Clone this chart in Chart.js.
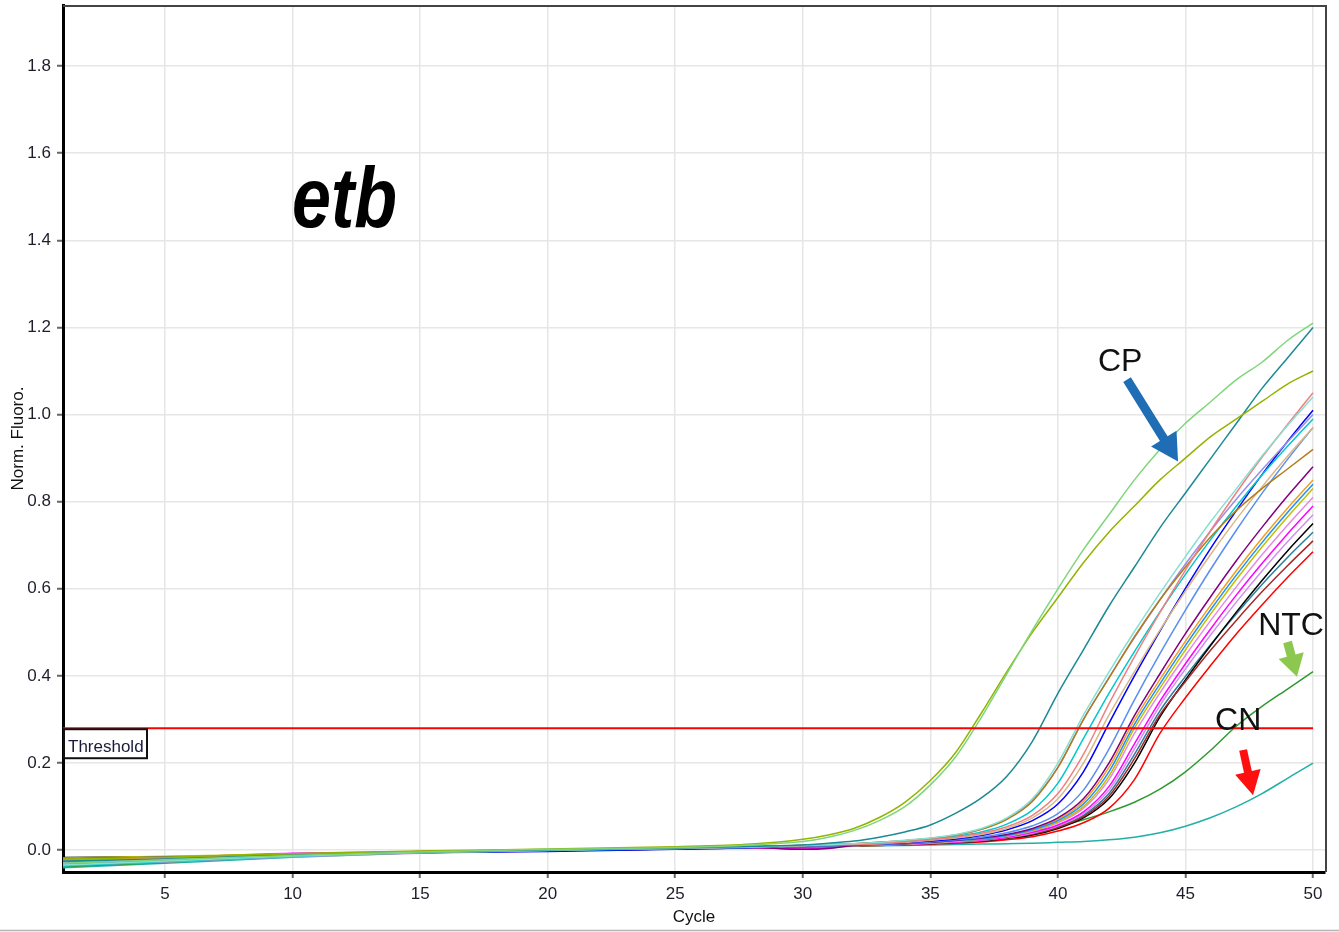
<!DOCTYPE html>
<html>
<head>
  <title>etb - Norm. Fluoro.</title>
  <script src="https://cdn.jsdelivr.net/npm/chart.js"></script>
  <style>
    body {
      margin: 0;
      background: #fff;
    }
    canvas {
      display: block;
    }
  </style>
</head>
<body>
  <canvas id="ampChart" width="1339" height="932"></canvas>

  <script>
    // cycles at which each curve is sampled
    const cycles = [1, 5, 10, 15, 20, 25, 28, 30, 31, 32, 33, 34, 35, 36, 37, 38, 39, 40,
                    41, 42, 43, 44, 45, 46, 47, 48, 49, 50];
    const xTicks = [5, 10, 15, 20, 25, 30, 35, 40, 45, 50];
    const yTicks = [0, 0.2, 0.4, 0.6, 0.8, 1.0, 1.2, 1.4, 1.6, 1.8];
    const threshold = 0.28;

    // normalised fluorescence per well
    const lightGreen = [-0.03, -0.022, -0.012, -0.004, 0.002, 0.006, 0.012, 0.02, 0.03, 0.045, 0.068, 0.1, 0.15, 0.215, 0.305, 0.405, 0.505, 0.6, 0.69, 0.77, 0.85, 0.92, 0.98, 1.03, 1.08, 1.12, 1.17, 1.21];
    const olive = [-0.02, -0.016, -0.008, -0.002, 0.003, 0.008, 0.014, 0.025, 0.035, 0.05, 0.075, 0.11, 0.16, 0.225, 0.315, 0.41, 0.5, 0.58, 0.66, 0.73, 0.79, 0.85, 0.9, 0.95, 0.99, 1.03, 1.07, 1.10];
    const teal = [-0.025, -0.02, -0.01, -0.004, 0.001, 0.005, 0.009, 0.012, 0.016, 0.021, 0.03, 0.042, 0.058, 0.085, 0.12, 0.17, 0.25, 0.36, 0.46, 0.56, 0.65, 0.74, 0.82, 0.9, 0.98, 1.06, 1.13, 1.2];
    const aqua = [-0.034, -0.025, -0.013, -0.005, 0.0, 0.005, 0.008, 0.011, 0.013, 0.015, 0.018, 0.023, 0.028, 0.036, 0.05, 0.074, 0.118, 0.2, 0.31, 0.409, 0.502, 0.59, 0.674, 0.755, 0.83, 0.905, 0.975, 1.04];
    const salmon = [-0.022, -0.018, -0.009, -0.003, 0.001, 0.004, 0.008, 0.011, 0.012, 0.013, 0.015, 0.019, 0.024, 0.03, 0.039, 0.054, 0.08, 0.13, 0.22, 0.336, 0.444, 0.546, 0.643, 0.735, 0.821, 0.902, 0.977, 1.05];
    const brown = [-0.019, -0.017, -0.012, -0.006, 0.0, 0.006, 0.009, 0.011, 0.013, 0.015, 0.018, 0.022, 0.027, 0.035, 0.048, 0.071, 0.112, 0.19, 0.3, 0.395, 0.49, 0.575, 0.65, 0.72, 0.78, 0.83, 0.875, 0.92];
    const lavender = [-0.028, -0.02, -0.01, -0.004, 0.001, 0.005, 0.008, 0.011, 0.013, 0.015, 0.018, 0.022, 0.027, 0.035, 0.048, 0.072, 0.115, 0.19, 0.3, 0.396, 0.488, 0.575, 0.657, 0.734, 0.806, 0.873, 0.937, 1.0];
    const cyan = [-0.036, -0.026, -0.014, -0.006, -0.001, 0.004, 0.007, 0.011, 0.012, 0.014, 0.017, 0.02, 0.025, 0.032, 0.042, 0.06, 0.092, 0.154, 0.256, 0.36, 0.456, 0.547, 0.633, 0.714, 0.79, 0.861, 0.927, 0.99];
    const tan = [-0.024, -0.019, -0.011, -0.005, 0.0, 0.004, 0.007, 0.011, 0.012, 0.013, 0.015, 0.018, 0.023, 0.028, 0.036, 0.05, 0.074, 0.118, 0.2, 0.31, 0.41, 0.505, 0.595, 0.68, 0.76, 0.834, 0.904, 0.97];
    const blue = [-0.02, -0.016, -0.012, -0.005, -0.003, 0.002, 0.006, 0.011, 0.011, 0.012, 0.014, 0.017, 0.021, 0.026, 0.034, 0.047, 0.068, 0.106, 0.18, 0.291, 0.40, 0.503, 0.601, 0.694, 0.78, 0.862, 0.938, 1.01];
    const cornflower = [-0.032, -0.024, -0.013, -0.004, 0.0, 0.005, 0.007, 0.01, 0.011, 0.012, 0.013, 0.016, 0.019, 0.024, 0.03, 0.04, 0.056, 0.084, 0.138, 0.232, 0.345, 0.451, 0.551, 0.646, 0.735, 0.819, 0.897, 0.97];
    const purple = [-0.026, -0.02, -0.01, -0.003, 0.0, 0.003, 0.006, 0.002, 0.004, 0.011, 0.013, 0.015, 0.018, 0.023, 0.028, 0.036, 0.05, 0.074, 0.118, 0.2, 0.309, 0.405, 0.497, 0.583, 0.665, 0.741, 0.813, 0.88];
    const dodger = [-0.03, -0.023, -0.011, -0.005, -0.001, 0.004, 0.006, 0.01, 0.01, 0.011, 0.013, 0.015, 0.018, 0.022, 0.026, 0.034, 0.047, 0.068, 0.106, 0.18, 0.289, 0.382, 0.47, 0.553, 0.632, 0.706, 0.775, 0.84];
    const yellowOlive = [-0.018, -0.014, -0.008, -0.004, 0.001, 0.005, 0.008, 0.01, 0.01, 0.011, 0.012, 0.014, 0.017, 0.021, 0.026, 0.033, 0.045, 0.065, 0.1, 0.17, 0.28, 0.372, 0.46, 0.543, 0.622, 0.696, 0.765, 0.83];
    const orange = [-0.021, -0.016, -0.009, -0.004, 0.0, 0.004, 0.007, 0.01, 0.01, 0.011, 0.013, 0.015, 0.018, 0.022, 0.027, 0.035, 0.048, 0.071, 0.112, 0.19, 0.299, 0.392, 0.48, 0.563, 0.642, 0.716, 0.785, 0.85];
    const orchid = [-0.027, -0.021, -0.012, -0.006, -0.001, 0.003, 0.006, 0.01, 0.01, 0.011, 0.012, 0.014, 0.017, 0.02, 0.025, 0.032, 0.044, 0.063, 0.096, 0.162, 0.268, 0.361, 0.447, 0.528, 0.605, 0.678, 0.746, 0.81];
    const magenta = [-0.023, -0.017, -0.007, -0.004, 0.0, 0.004, 0.006, 0.003, 0.006, 0.011, 0.012, 0.014, 0.016, 0.019, 0.024, 0.03, 0.041, 0.058, 0.088, 0.146, 0.244, 0.342, 0.428, 0.509, 0.586, 0.658, 0.726, 0.79];
    const violet = [-0.035, -0.027, -0.015, -0.007, -0.002, 0.003, 0.005, 0.009, 0.01, 0.011, 0.012, 0.013, 0.016, 0.019, 0.023, 0.029, 0.039, 0.056, 0.084, 0.138, 0.232, 0.332, 0.416, 0.495, 0.57, 0.641, 0.708, 0.77];
    const darkRed = [-0.02, -0.017, -0.01, -0.004, 0.0, 0.004, 0.008, 0.009, 0.01, 0.011, 0.012, 0.013, 0.015, 0.018, 0.022, 0.028, 0.037, 0.052, 0.077, 0.124, 0.21, 0.311, 0.387, 0.46, 0.528, 0.593, 0.653, 0.71];
    const black = [-0.017, -0.015, -0.011, -0.005, -0.001, 0.003, 0.006, 0.009, 0.01, 0.011, 0.012, 0.013, 0.015, 0.018, 0.021, 0.027, 0.035, 0.05, 0.074, 0.118, 0.2, 0.306, 0.391, 0.471, 0.547, 0.619, 0.687, 0.75];
    const steel = [-0.029, -0.021, -0.012, -0.004, 0.0, 0.004, 0.006, 0.009, 0.01, 0.011, 0.012, 0.013, 0.016, 0.018, 0.022, 0.029, 0.038, 0.054, 0.08, 0.13, 0.22, 0.32, 0.399, 0.473, 0.543, 0.61, 0.672, 0.73];
    const red = [-0.025, -0.019, -0.012, -0.005, 0.0, 0.003, 0.005, 0.008, 0.009, 0.01, 0.011, 0.012, 0.014, 0.016, 0.019, 0.024, 0.031, 0.044, 0.063, 0.096, 0.162, 0.268, 0.35, 0.425, 0.497, 0.563, 0.626, 0.685];
    const ntc = [-0.038, -0.028, -0.013, -0.005, 0.0, 0.004, 0.006, 0.008, 0.009, 0.01, 0.011, 0.013, 0.016, 0.02, 0.026, 0.033, 0.043, 0.055, 0.07, 0.088, 0.11, 0.14, 0.18, 0.23, 0.285, 0.33, 0.37, 0.41];
    const cn = [-0.04, -0.03, -0.016, -0.006, -0.001, 0.003, 0.005, 0.007, 0.008, 0.009, 0.01, 0.011, 0.012, 0.013, 0.014, 0.015, 0.016, 0.018, 0.02, 0.024, 0.03, 0.04, 0.055, 0.075, 0.1, 0.13, 0.165, 0.2];

    const wells = [
      [lightGreen, '#7fd67a'], [olive, '#93b300'], [teal, '#1b8a94'],
      [aqua, '#86e0d2'], [salmon, '#f08080'], [brown, '#b07d1a'],
      [lavender, '#9a8ee8'], [cyan, '#00c8cc'], [tan, '#d8b888'],
      [blue, '#0000ff'], [cornflower, '#5a8ef0'], [purple, '#800080'],
      [dodger, '#1e90ff'], [yellowOlive, '#c0c000'], [orange, '#f0a020'],
      [orchid, '#e58ae5'], [magenta, '#ff00ff'], [violet, '#d090f0'],
      [darkRed, '#a52a2a'], [black, '#000000'], [steel, '#2a7f9f'],
      [red, '#ff0000'], [ntc, '#2f9a2f'], [cn, '#20b0a8']
    ];

    const datasets = wells.map(([vals, color]) => ({
      data: vals.map((v, i) => ({ x: cycles[i], y: v })),
      borderColor: color,
      borderWidth: 1.5,
      pointRadius: 0,
      cubicInterpolationMode: 'monotone'
    }));

    // threshold line, drawn on top of the curves
    datasets.push({
      data: [{ x: cycles[0], y: threshold }, { x: cycles[cycles.length - 1], y: threshold }],
      borderColor: '#ff0000',
      borderWidth: 2,
      pointRadius: 0,
      order: -1
    });

    function arrow(ctx, x1, y1, x2, y2, shaft, headLen, headW, color) {
      const len = Math.hypot(x2 - x1, y2 - y1);
      ctx.save();
      ctx.translate(x1, y1);
      ctx.rotate(Math.atan2(y2 - y1, x2 - x1));
      ctx.fillStyle = color;
      ctx.beginPath();
      ctx.moveTo(0, -shaft / 2);
      ctx.lineTo(len - headLen, -shaft / 2);
      ctx.lineTo(len - headLen, -headW / 2);
      ctx.lineTo(len, 0);
      ctx.lineTo(len - headLen, headW / 2);
      ctx.lineTo(len - headLen, shaft / 2);
      ctx.lineTo(0, shaft / 2);
      ctx.closePath();
      ctx.fill();
      ctx.restore();
    }

    const notes = {
      id: 'notes',
      afterDraw(chart) {
        const { ctx, chartArea: a, scales: { x, y } } = chart;
        ctx.save();

        // top and right frame
        ctx.strokeStyle = '#444';
        ctx.lineWidth = 2;
        ctx.beginPath();
        ctx.moveTo(a.left, a.top + 1);
        ctx.lineTo(a.right + 1, a.top + 1);
        ctx.lineTo(a.right + 1, a.bottom);
        ctx.stroke();

        // bottom rule of the panel
        ctx.strokeStyle = '#b4b4b4';
        ctx.lineWidth = 1.5;
        ctx.beginPath();
        ctx.moveTo(0, chart.height - 1.5);
        ctx.lineTo(chart.width, chart.height - 1.5);
        ctx.stroke();

        // threshold tag
        const ty = y.getPixelForValue(threshold);
        ctx.strokeStyle = '#111';
        ctx.lineWidth = 2;
        ctx.strokeRect(a.left + 1, ty + 1, 83, 29);
        ctx.fillStyle = '#1b1b3a';
        ctx.font = '17px "Liberation Sans", Arial, sans-serif';
        ctx.textBaseline = 'alphabetic';
        ctx.fillText('Threshold', a.left + 5, ty + 24);

        // gene name
        ctx.save();
        ctx.translate(x.getPixelForValue(9.98), y.getPixelForValue(1.43));
        ctx.scale(1, 1.22);
        ctx.fillStyle = '#000';
        ctx.font = 'italic bold 70px "Liberation Sans", Arial, sans-serif';
        ctx.fillText('etb', 0, 0);
        ctx.restore();

        // control labels
        ctx.fillStyle = '#111';
        ctx.font = '32px "Liberation Sans", Arial, sans-serif';
        ctx.fillText('CP', x.getPixelForValue(41.57), y.getPixelForValue(1.099));
        ctx.fillText('NTC', x.getPixelForValue(47.85), y.getPixelForValue(0.494));
        ctx.fillText('CN', x.getPixelForValue(46.16), y.getPixelForValue(0.276));

        arrow(ctx, x.getPixelForValue(42.71), y.getPixelForValue(1.08),
              x.getPixelForValue(44.71), y.getPixelForValue(0.892), 9, 27, 30, '#1f6db5');
        arrow(ctx, x.getPixelForValue(49.0), y.getPixelForValue(0.478),
              x.getPixelForValue(49.37), y.getPixelForValue(0.398), 9, 22, 26, '#8cc850');
        arrow(ctx, x.getPixelForValue(47.26), y.getPixelForValue(0.23),
              x.getPixelForValue(47.65), y.getPixelForValue(0.126), 8, 24, 26, '#ff1010');

        ctx.restore();
      }
    };

    const font = { family: '"Liberation Sans", Arial, sans-serif' };

    new Chart(document.getElementById('ampChart').getContext('2d'), {
      type: 'line',
      data: { datasets },
      options: {
        responsive: false,
        devicePixelRatio: 1,
        animation: false,
        layout: { padding: { left: 0, right: 14, top: 5, bottom: 0 } },
        plugins: {
          legend: { display: false },
          tooltip: { enabled: false }
        },
        scales: {
          x: {
            type: 'linear',
            min: 1,
            max: 50.47,
            afterBuildTicks: s => { s.ticks = xTicks.map(v => ({ value: v })); },
            afterFit: s => { s.height = 60; s.paddingLeft = 0; s.paddingRight = 0; },
            grid: { color: '#e6e6e6', lineWidth: 1.5, tickColor: '#666', tickLength: 6, tickWidth: 2 },
            border: { color: '#000', width: 3 },
            ticks: { color: '#1e1e2a', font: { ...font, size: 17 }, padding: 6, maxRotation: 0 },
            title: {
              display: true, text: 'Cycle', color: '#111',
              font: { ...font, size: 17 }, padding: { top: 0, bottom: 4 }
            }
          },
          y: {
            min: -0.05,
            max: 1.94,
            afterBuildTicks: s => { s.ticks = yTicks.map(v => ({ value: v })); },
            afterFit: s => { s.width = 63; s.paddingTop = 0; s.paddingBottom = 0; },
            grid: { color: '#e6e6e6', lineWidth: 1.5, tickColor: '#666', tickLength: 6, tickWidth: 2 },
            border: { color: '#000', width: 3 },
            ticks: {
              color: '#1e1e2a', font: { ...font, size: 17 }, padding: 6,
              callback: v => v.toFixed(1)
            },
            title: {
              display: true, text: 'Norm. Fluoro.', color: '#111',
              font: { ...font, size: 17 }, padding: { top: 8, bottom: 0 }
            }
          }
        }
      },
      plugins: [notes]
    });
  </script>
</body>
</html>
